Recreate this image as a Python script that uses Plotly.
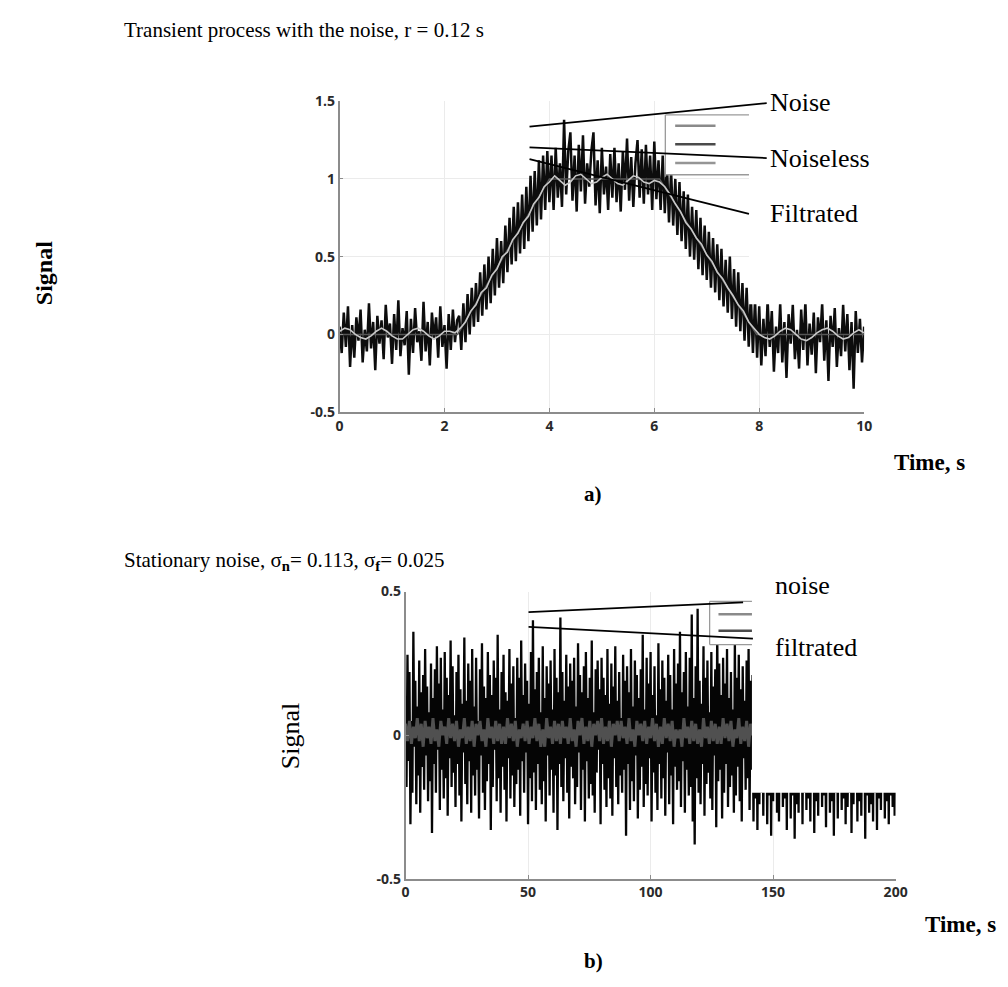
import numpy as np
import plotly.graph_objects as go

# ---------------- data: panel a (transient process) ----------------
noise_a = [
    0.05, -0.12, 0.14, -0.08, 0.18, -0.21, 0.06, -0.15, 0.11, -0.04,
    0.16, -0.18, 0.03, -0.11, 0.2, -0.09, 0.08, -0.23, 0.12, -0.06,
    0.09, -0.16, 0.19, -0.02, 0.07, -0.19, 0.13, -0.1, 0.22, -0.14,
    0.04, -0.07, 0.15, -0.26, 0.1, -0.12, 0.17, -0.05, 0.02, -0.17,
    0.21, -0.11, 0.08, -0.2, 0.14, -0.03, 0.11, -0.15, 0.18, -0.08,
    0.06, -0.22, 0.13, -0.1, 0.16, -0.05, 0.09,
    0.12, -0.1, 0.2, -0.05, 0.26, 0.0, 0.3, 0.05, 0.33, 0.08,
    0.4, 0.12, 0.45, 0.16, 0.5, 0.2, 0.55, 0.25, 0.62, 0.3,
    0.6, 0.33, 0.7, 0.4, 0.75, 0.45, 0.82, 0.47, 0.85, 0.52,
    0.9, 0.55, 0.95, 0.6, 1.02, 0.66, 1.05, 0.7, 1.12, 0.74,
    1.15, 0.8, 1.18, 0.85,
    1.15, 0.8, 1.2, 0.88, 1.1, 0.82, 1.38, 0.9, 1.18, 1.3,
    0.86, 1.15, 0.79, 1.22, 0.92, 1.28, 0.84, 1.1, 0.95, 1.18,
    1.3, 0.83, 1.12, 0.78, 1.2, 0.9, 1.08, 0.8, 1.16, 0.88,
    1.2, 0.85, 1.1, 0.79, 1.18, 0.93, 1.26, 0.86, 1.14, 0.82,
    1.1, 1.25, 0.88, 1.19, 0.84, 1.22, 0.9, 1.15, 0.8, 1.24,
    0.87, 1.12,
    0.8, 1.15, 0.78, 1.1, 0.72, 1.05, 0.7, 1.0, 0.64, 0.98,
    0.6, 0.92, 0.55, 0.9, 0.5, 0.82, 0.48, 0.8, 0.42, 0.75,
    0.38, 0.7, 0.35, 0.66, 0.3, 0.62, 0.27, 0.58, 0.22, 0.55,
    0.18, 0.48, 0.14, 0.5, 0.1, 0.42, 0.05, 0.4, 0.02, 0.33,
    -0.04, 0.3, -0.08, 0.25, -0.12, 0.22, -0.15,
    0.18, -0.2, 0.1, -0.14, 0.22, -0.08, 0.15, -0.24, 0.05, -0.12,
    0.2, -0.18, 0.08, -0.28, 0.13, -0.06, 0.19, -0.16, 0.03, -0.22,
    0.16, -0.1, 0.21, -0.2, 0.07, -0.13, 0.14, -0.25, 0.11, -0.05,
    0.2, -0.17, 0.09, -0.3, 0.12, -0.08, 0.17, -0.21, 0.04, -0.14,
    0.19, -0.11, 0.13, -0.23, 0.08, -0.35, 0.15, -0.12, 0.1, -0.18, 0.05,
]
noiseless_t = [0, 2.25, 4.0, 6.1, 7.95, 10]
noiseless_a = [0, 0, 1, 1, 0, 0]
filtrated_a = [
    0.02, 0.04, 0.03, 0.0, -0.02, -0.03, -0.01, 0.02, 0.04, 0.02,
    -0.01, -0.03, -0.03, 0.0, 0.03, 0.04, 0.02, -0.01, -0.03, -0.01,
    0.02, 0.02, 0.01,
    0.04, 0.08, 0.15, 0.19, 0.27, 0.3, 0.38, 0.42, 0.5, 0.53,
    0.61, 0.65, 0.72, 0.76, 0.84, 0.88, 0.95, 0.98,
    1.02, 0.99, 0.96, 0.98, 1.02, 1.03, 1.0, 0.97, 0.98, 1.01,
    1.03, 1.0, 0.97, 0.96, 0.99, 1.02, 1.01, 0.98, 0.97, 0.99, 0.98,
    0.95, 0.9, 0.84, 0.79, 0.72, 0.68, 0.62, 0.58, 0.51, 0.47,
    0.4, 0.36, 0.3, 0.25, 0.19, 0.15, 0.08, 0.04, 0.0,
    -0.02, -0.03, -0.01, 0.02, 0.04, 0.03, 0.0, -0.03, -0.04, -0.02,
    0.01, 0.03, 0.04, 0.02, -0.01, -0.03, -0.02, 0.01, 0.03, 0.01,
]
xticks_a = [0, 2, 4, 6, 8, 10]
yticks_a = [-0.5, 0, 0.5, 1, 1.5]
yticklabels_a = ["-0.5", "0", "0.5", "1", "1.5"]

# ---------------- data: panel b (stationary noise) ----------------
noise_b = [
    0.12, -0.18, 0.28, -0.09, 0.22, -0.31, 0.05, -0.2, 0.36, -0.04,
    0.19, -0.24, 0.1, -0.14, 0.26, -0.27, 0.15, -0.11, 0.21, -0.19,
    0.3, -0.07, 0.17, -0.23, 0.08, -0.16, 0.25, -0.34, 0.13, -0.1,
    0.23, -0.2, 0.31, -0.05, 0.18, -0.26, 0.27, -0.12, 0.09, -0.22,
    0.29, -0.15, 0.2, -0.28, 0.14, -0.08, 0.33, -0.18, 0.24, -0.13,
    0.07, -0.25, 0.22, -0.1, 0.28, -0.21, 0.16, -0.3, 0.11, -0.06,
    0.34, -0.17, 0.12, -0.24, 0.25, -0.09, 0.19, -0.27, 0.3, -0.14,
    0.1, -0.21, 0.27, -0.12, 0.05, -0.29, 0.23, -0.07, 0.32, -0.2,
    0.17, -0.26, 0.13, -0.16, 0.29, -0.1, 0.21, -0.33, 0.14, -0.18,
    0.26, -0.05, 0.2, -0.23, 0.35, -0.15, 0.09, -0.27, 0.22, -0.11,
    0.28, -0.19, 0.15, -0.3, 0.12, -0.08, 0.3, -0.22, 0.18, -0.14,
    0.24, -0.25, 0.06, -0.17, 0.27, -0.12, 0.2, -0.28, 0.33, -0.09,
    0.14, -0.2, 0.25, -0.06, 0.19, -0.31, 0.11, -0.15, 0.29, -0.23,
    0.4, -0.13, 0.16, -0.26, 0.22, -0.1, 0.27, -0.19, 0.08, -0.24,
    0.31, -0.16, 0.13, -0.3, 0.24, -0.07, 0.18, -0.21, 0.26, -0.12,
    0.09, -0.27, 0.3, -0.14, 0.2, -0.33, 0.15, -0.1, 0.41, -0.18,
    0.22, -0.23, 0.12, -0.08, 0.28, -0.2, 0.17, -0.29, 0.25, -0.11,
    0.19, -0.15, 0.27, -0.24, 0.1, -0.18, 0.32, -0.06, 0.21, -0.26,
    0.15, -0.12, 0.24, -0.3, 0.29, -0.09, 0.13, -0.22, 0.2, -0.17,
    0.33, -0.21, 0.08, -0.27, 0.23, -0.13, 0.26, -0.05, 0.16, -0.31,
    0.27, -0.1, 0.2, -0.19, 0.14, -0.25, 0.3, -0.15, 0.11, -0.22,
    0.25, -0.28, 0.17, -0.08, 0.31, -0.18, 0.12, -0.24, 0.22, -0.14,
    0.06, -0.2, 0.28, -0.12, 0.19, -0.35, 0.24, -0.1, 0.15, -0.26,
    0.3, -0.16, 0.1, -0.23, 0.26, -0.07, 0.21, -0.29, 0.13, -0.19,
    0.23, -0.11, 0.35, -0.25, 0.09, -0.17, 0.27, -0.21, 0.18, -0.08,
    0.29, -0.3, 0.14, -0.13, 0.24, -0.2, 0.07, -0.26, 0.32, -0.1,
    0.16, -0.22, 0.26, -0.15, 0.2, -0.28, 0.12, -0.06, 0.28, -0.24,
    0.21, -0.14, 0.09, -0.31, 0.3, -0.11, 0.18, -0.19, 0.25, -0.16,
    0.36, -0.25, 0.15, -0.09, 0.22, -0.27, 0.29, -0.12, 0.1, -0.21,
    0.27, -0.18, 0.42, -0.3, 0.13, -0.38, 0.24, -0.15, 0.44, -0.2,
    0.19, -0.24, 0.11, -0.1, 0.31, -0.28, 0.2, -0.17, 0.26, -0.13,
    0.08, -0.22, 0.29, -0.26, 0.17, -0.07, 0.23, -0.32, 0.37, -0.16,
    0.25, -0.12, 0.14, -0.29, 0.27, -0.2, 0.18, -0.1, 0.3, -0.25,
    0.13, -0.18, 0.22, -0.14, 0.09, -0.27, 0.33, -0.21, 0.2, -0.11,
    0.28, -0.23, 0.16, -0.3, 0.24, -0.08, 0.12, -0.19, 0.26, -0.15,
    0.3, -0.26, 0.19, -0.12, 0.21, -0.3, 0.1, -0.22, 0.17, -0.33,
    0.2, -0.24, 0.14, -0.2, 0.25, -0.28, 0.11, -0.16, 0.22, -0.31,
    0.09, -0.21, 0.27, -0.35, 0.18, -0.23, 0.13, -0.19, 0.24, -0.27,
    0.16, -0.3, 0.21, -0.14, 0.28, -0.25, 0.07, -0.22, 0.19, -0.33,
    0.23, -0.18, 0.12, -0.29, 0.26, -0.21, 0.15, -0.36, 0.2, -0.24,
    0.1, -0.27, 0.3, -0.17, 0.17, -0.31, 0.22, -0.2, 0.14, -0.26,
    0.25, -0.22, 0.08, -0.3, 0.21, -0.15, 0.27, -0.34, 0.16, -0.23,
    0.19, -0.28, 0.24, -0.19, 0.12, -0.25, 0.29, -0.21, 0.1, -0.32,
    0.22, -0.16, 0.18, -0.27, 0.26, -0.23, 0.13, -0.35, 0.2, -0.2,
    0.15, -0.29, 0.23, -0.18, 0.09, -0.26, 0.28, -0.22, 0.17, -0.31,
    0.24, -0.25, 0.11, -0.2, 0.2, -0.34, 0.16, -0.24, 0.27, -0.19,
    0.13, -0.3, 0.22, -0.23, 0.18, -0.28, 0.25, -0.17, 0.12, -0.36,
    0.21, -0.21, 0.15, -0.27, 0.29, -0.24, 0.1, -0.3, 0.23, -0.2,
    0.17, -0.33, 0.26, -0.22, 0.14, -0.26, 0.2, -0.19, 0.24, -0.29,
    0.12, -0.23, 0.19, -0.31, 0.27, -0.21, 0.16, -0.25, 0.22, -0.28,
    0.1,
]
filtrated_b = [
    0.04, -0.02, 0.05, -0.03, 0.03, -0.01, 0.06, -0.02, 0.04, -0.04,
    0.05, -0.01, 0.03, -0.03, 0.06, -0.02, 0.02, -0.04, 0.05, 0.0,
    0.03, -0.03, 0.06, -0.01, 0.04, -0.02, 0.05, -0.04, 0.02, -0.01,
    0.06, -0.03, 0.03, -0.02, 0.05, -0.04, 0.04, 0.0, 0.05, -0.02,
    0.02, -0.04, 0.06, -0.01, 0.03, -0.03, 0.05, -0.02, 0.04, -0.03,
    0.03, -0.03, 0.06, -0.01, 0.04, -0.02, 0.05, -0.04, 0.02, -0.01,
    0.04, -0.02, 0.05, -0.03, 0.03, -0.01, 0.06, -0.02, 0.04, -0.04,
    0.02, -0.04, 0.06, -0.01, 0.03, -0.03, 0.05, -0.02, 0.04, -0.03,
    0.05, -0.01, 0.03, -0.03, 0.06, -0.02, 0.02, -0.04, 0.05, 0.0,
    0.06, -0.03, 0.03, -0.02, 0.05, -0.04, 0.04, 0.0, 0.05, -0.02,
    0.06, -0.03, 0.03, -0.02, 0.05, -0.04, 0.04, 0.0, 0.05, -0.02,
    0.05, -0.01, 0.03, -0.03, 0.06, -0.02, 0.02, -0.04, 0.05, 0.0,
    0.04, -0.02, 0.05, -0.03, 0.03, -0.01, 0.06, -0.02, 0.04, -0.04,
    0.03, -0.03, 0.06, -0.01, 0.04, -0.02, 0.05, -0.04, 0.02, -0.01,
    0.02, -0.04, 0.06, -0.01, 0.03, -0.03, 0.05, -0.02, 0.04, -0.03,
    0.02, -0.04, 0.06, -0.01, 0.03, -0.03, 0.05, -0.02, 0.04, -0.03,
    0.03, -0.03, 0.06, -0.01, 0.04, -0.02, 0.05, -0.04, 0.02, -0.01,
    0.06, -0.03, 0.03, -0.02, 0.05, -0.04, 0.04, 0.0, 0.05, -0.02,
    0.04, -0.02, 0.05, -0.03, 0.03, -0.01, 0.06, -0.02, 0.04, -0.04,
    0.05, -0.01, 0.03, -0.03, 0.06, -0.02, 0.02, -0.04, 0.05, 0.0,
    0.04, -0.02, 0.05, -0.03, 0.03, -0.01, 0.06, -0.02, 0.04, -0.04,
    0.06, -0.03, 0.03, -0.02, 0.05, -0.04, 0.04, 0.0, 0.05, -0.02,
    0.03, -0.03, 0.06, -0.01, 0.04, -0.02, 0.05, -0.04, 0.02, -0.01,
    0.05, -0.01, 0.03, -0.03, 0.06, -0.02, 0.02, -0.04, 0.05, 0.0,
    0.02, -0.04, 0.06, -0.01, 0.03, -0.03, 0.05, -0.02, 0.04, -0.03,
    0.03,
]
xticks_b = [0, 50, 100, 150, 200]
yticks_b = [-0.5, 0, 0.5]
yticklabels_b = ["-0.5", "0", "0.5"]

# sample grids (uniform sampling of each recorded series)
t_noise_a = np.linspace(0, 10, len(noise_a))
t_filt_a = np.linspace(0, 10, len(filtrated_a))
t_noise_b = np.linspace(0, 200, len(noise_b))
t_filt_b = np.linspace(0, 200, len(filtrated_b))

W, H = 1008, 987
def px(x):
    return x / W
def py(y):
    return 1 - y / H

SERIF = "Liberation Serif, Times New Roman, serif"
TICKFONT = dict(family="Open Sans, DejaVu Sans, sans-serif", size=14, color="#2a2a2a", weight="bold")

fig = go.Figure()
# panel a
fig.add_trace(go.Scatter(x=t_noise_a, y=noise_a, mode="lines", line=dict(color="#0d0d0d", width=2.5),
                         xaxis="x", yaxis="y", showlegend=False, hoverinfo="skip"))
fig.add_trace(go.Scatter(x=noiseless_t, y=noiseless_a, mode="lines", line=dict(color="#555555", width=1.5),
                         xaxis="x", yaxis="y", showlegend=False, hoverinfo="skip"))
fig.add_trace(go.Scatter(x=t_filt_a, y=filtrated_a, mode="lines", line=dict(color="#c8c8c8", width=1.6),
                         xaxis="x", yaxis="y", showlegend=False, hoverinfo="skip"))
# panel b
fig.add_trace(go.Scatter(x=t_noise_b, y=noise_b, mode="lines", line=dict(color="#050505", width=2.3),
                         xaxis="x2", yaxis="y2", showlegend=False, hoverinfo="skip"))
fig.add_trace(go.Scatter(x=t_filt_b, y=filtrated_b, mode="lines", line=dict(color="#505050", width=3),
                         xaxis="x2", yaxis="y2", showlegend=False, hoverinfo="skip"))

axis_common = dict(showgrid=True, gridcolor="#ebebeb", gridwidth=1, zeroline=False,
                   showline=True, linecolor="#8c8c8c", linewidth=1.5,
                   ticks="inside", ticklen=4, tickcolor="#8c8c8c", tickfont=TICKFONT,
                   fixedrange=True)

fig.update_layout(
    width=W, height=H, margin=dict(l=0, r=0, t=0, b=0),
    paper_bgcolor="white", plot_bgcolor="white", showlegend=False,
    xaxis=dict(domain=[px(341), px(874)], range=[0, 10], anchor="y", tickvals=xticks_a, **axis_common),
    yaxis=dict(domain=[py(410), py(93)], range=[-0.5, 1.5], anchor="x", tickvals=yticks_a,
               ticktext=yticklabels_a, **axis_common),
    xaxis2=dict(domain=[px(408), px(906)], range=[0, 200], anchor="y2", tickvals=xticks_b, **axis_common),
    yaxis2=dict(domain=[py(886), py(593)], range=[-0.5, 0.5], anchor="x2", tickvals=yticks_b,
                ticktext=yticklabels_b, **axis_common),
)

shapes = []
def rect(x0, y0, x1, y1, fill="white"):
    shapes.append(dict(type="rect", xref="paper", yref="paper", x0=px(x0), x1=px(x1), y0=py(y1), y1=py(y0),
                       fillcolor=fill, line=dict(width=0), layer="above"))
def seg(x0, y0, x1, y1, color="black", width=1.8):
    shapes.append(dict(type="line", xref="paper", yref="paper", x0=px(x0), y0=py(y0), x1=px(x1), y1=py(y1),
                       line=dict(color=color, width=width), layer="above"))

# panel a: blanked area at the top right and cut legend box
rect(757, 85, 1008, 300)
rect(672, 107, 757, 168)
seg(672, 107, 757, 107, "#9a9a9a", 1.3)
seg(672, 168, 757, 168, "#9a9a9a", 1.3)
seg(672, 107, 672, 170, "#9a9a9a", 1.3)
seg(682, 118, 723, 118, "#8a8a8a", 2.5)
seg(682, 137, 723, 137, "#4a4a4a", 2.5)
seg(682, 156, 723, 156, "#959595", 2.5)
# pointer lines a
seg(534, 119, 775, 95)
seg(534, 140, 775, 151)
seg(534, 152, 757, 208)

# panel b: blanked area and cut legend box
rect(760, 585, 1008, 798)
rect(717, 603, 760, 647)
seg(717, 603, 760, 603, "#9a9a9a", 1.3)
seg(717, 647, 760, 647, "#9a9a9a", 1.3)
seg(717, 603, 717, 647, "#9a9a9a", 1.3)
seg(726, 616, 760, 616, "#8a8a8a", 2.5)
seg(726, 633, 760, 633, "#4a4a4a", 2.5)
# pointer lines b
seg(533, 614, 751, 604)
seg(533, 629, 761, 641)

fig.update_layout(shapes=shapes)

ann = []
def text(x, y, s, size, xanchor="left", bold=False, angle=0):
    ann.append(dict(x=px(x), y=py(y), xref="paper", yref="paper", text=s, showarrow=False,
                    xanchor=xanchor, yanchor="middle", textangle=angle,
                    font=dict(family=SERIF, size=size, color="black", weight="bold" if bold else "normal")))

text(120, 20, "Transient process with the noise, r = 0.12 s", 21)
text(40, 268, "Signal", 24, xanchor="center", bold=True, angle=-90)
text(776, 94, "Noise", 26)
text(776, 151, "Noiseless", 26)
text(776, 207, "Filtrated", 26)
text(940, 461, "Time, s", 23, xanchor="center", bold=True)
text(599, 493, "a)", 21, xanchor="center", bold=True)

text(120, 562, "Stationary noise, σ<sub><b>n</b></sub>= 0.113, σ<sub><b>f</b></sub>= 0.025", 21)
text(291, 740, "Signal", 26, xanchor="center", angle=-90)
text(781, 587, "noise", 26)
text(781, 650, "filtrated", 26)
text(972, 932, "Time, s", 23, xanchor="center", bold=True)
text(599, 970, "b)", 21, xanchor="center", bold=True)

fig.update_layout(annotations=ann)

fig.write_html("out.html")
